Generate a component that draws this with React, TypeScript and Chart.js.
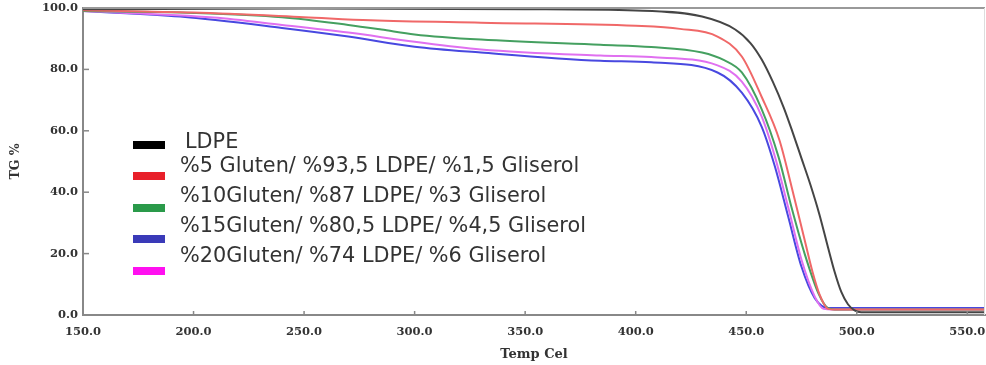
import React, { useEffect, useRef } from "react";
import { Chart, registerables } from "chart.js";
Chart.register(...registerables);

const seriesNames = [
  "LDPE",
  "%5 Gluten/ %93,5 LDPE/ %1,5 Gliserol",
  "%10Gluten/ %87 LDPE/ %3 Gliserol",
  "%15Gluten/ %80,5 LDPE/ %4,5 Gliserol",
  "%20Gluten/ %74 LDPE/ %6 Gliserol",
];

const tempLDPE = [150, 250, 350, 400, 430, 445, 452, 457, 462, 467, 471, 475, 479, 483, 487, 490, 493, 496, 499, 502, 558];
const tgLDPE = [99.6, 99.8, 99.6, 99.2, 97.2, 93, 88.5, 83.2, 76, 67.5, 59.5, 51, 42.5, 33, 22, 14, 7.5, 3.5, 1.5, 0.9, 0.9];

const temp5 = [150, 200, 250, 280, 330, 400, 420, 437, 448, 457, 465, 470.5, 476.4, 480, 483, 487, 490, 558];
const tg5 = [99.3, 98.5, 97, 96, 95.2, 94.2, 93.2, 90.7, 84.2, 71, 57, 41.8, 24.5, 14, 7, 2, 1.8, 1.8];

const temp10 = [150, 200, 240, 270, 285, 300, 330, 384, 407, 430, 440, 448, 457, 464.6, 470.5, 476.4, 482.7, 487, 490, 558];
const tg10 = [99, 98.4, 97, 94.5, 93, 91.4, 89.7, 88, 87.3, 85.5, 83, 79, 67, 51.5, 35, 20, 7, 2.2, 1.8, 1.8];

const temp15 = [150, 194, 240, 270, 300, 330, 384, 407, 437, 448, 457, 463, 469, 475, 481, 487, 558];
const tg15 = [99, 97.2, 93.5, 90.7, 87.4, 85.5, 82.8, 82.3, 79, 72.4, 61.3, 48.3, 32, 15.7, 5.5, 2.3, 2.3];

const temp20 = [150, 209, 240, 270, 300, 330, 384, 407, 437, 448, 457, 463, 469, 475, 481, 485, 489, 558];
const tg20 = [99, 96.9, 94.5, 92, 89, 86.5, 84.5, 84, 81.3, 76, 64.6, 51.5, 35, 18, 6, 2, 1.8, 1.8];

const lineColors = ["#454545", "#f06868", "#45a060", "#4848e0", "#e070f0"];
const swatchColors = ["#000000", "#e8202a", "#2a9a4a", "#3a3ab8", "#ff10f0"];

const xTicks = [150, 200, 250, 300, 350, 400, 450, 500, 550];
const yTicks = [0, 20, 40, 60, 80, 100];

const toPoints = (xs: number[], ys: number[]) => xs.map((x, i) => ({ x, y: ys[i] }));

const legendPlugin = {
  id: "customLegend",
  afterDraw(chart: any) {
    const ctx = chart.ctx;
    ctx.save();
    const swY = [145, 176, 208, 239, 271];
    const txY = [143, 167, 197, 227, 257];
    ctx.font = '20.8px "DejaVu Sans"';
    ctx.textBaseline = "middle";
    ctx.textAlign = "left";
    seriesNames.forEach((name, i) => {
      ctx.fillStyle = swatchColors[i];
      ctx.fillRect(133, swY[i] - 4, 32, 8);
      ctx.fillStyle = "#333";
      ctx.fillText(name, i === 0 ? 185 : 180, txY[i]);
    });
    ctx.restore();
  },
};

const frameTicksPlugin = {
  id: "frameTicks",
  afterDatasetsDraw(chart: any) {
    const ctx = chart.ctx;
    const { left, right, top, bottom } = chart.chartArea;
    const xs = chart.scales.x;
    const ys = chart.scales.y;
    ctx.save();
    ctx.strokeStyle = "#888";
    ctx.lineWidth = 1.5;
    xTicks.forEach((v) => {
      const px = xs.getPixelForValue(v);
      ctx.beginPath();
      ctx.moveTo(px, bottom);
      ctx.lineTo(px, bottom - 4);
      ctx.stroke();
    });
    yTicks.forEach((v) => {
      const py = ys.getPixelForValue(v);
      ctx.beginPath();
      ctx.moveTo(left, py);
      ctx.lineTo(left + 6, py);
      ctx.stroke();
    });
    ctx.strokeStyle = "#999";
    ctx.lineWidth = 2;
    ctx.beginPath();
    ctx.moveTo(left, top);
    ctx.lineTo(right, top);
    ctx.stroke();
    ctx.strokeStyle = "#ddd";
    ctx.lineWidth = 1;
    ctx.beginPath();
    ctx.moveTo(right - 0.5, top);
    ctx.lineTo(right - 0.5, bottom);
    ctx.stroke();
    ctx.restore();
  },
};

export default function App() {
  const ref = useRef<HTMLCanvasElement>(null);
  useEffect(() => {
    const temps = [tempLDPE, temp5, temp10, temp15, temp20];
    const tgs = [tgLDPE, tg5, tg10, tg15, tg20];
    const order = [0, 1, 2, 4, 3];
    const datasets = order.map((i) => ({
      label: seriesNames[i],
      data: toPoints(temps[i], tgs[i]),
      borderColor: lineColors[i],
      borderWidth: 2,
      pointRadius: 0,
      fill: false,
      cubicInterpolationMode: "monotone" as const,
    }));
    const tickFont = { family: '"DejaVu Serif", serif', weight: "bold" as const, size: 11.5 };
    const chart = new Chart(ref.current!, {
      type: "line",
      data: { datasets },
      plugins: [frameTicksPlugin, legendPlugin],
      options: {
        animation: false,
        responsive: false,
        maintainAspectRatio: false,
        layout: { padding: { left: 8, right: 1, top: 8, bottom: 0 } },
        plugins: { legend: { display: false }, tooltip: { enabled: false } },
        scales: {
          x: {
            type: "linear",
            min: 150,
            max: 558,
            afterBuildTicks: (s: any) => {
              s.ticks = xTicks.map((v) => ({ value: v }));
            },
            afterFit: (s: any) => {
              s.height = 50;
              s.paddingLeft = 0;
              s.paddingRight = 0;
            },
            ticks: {
              callback: (v: any) => Number(v).toFixed(1),
              font: tickFont,
              color: "#333",
              padding: 10,
              maxRotation: 0,
              autoSkip: false,
            },
            grid: { display: false, drawTicks: false },
            border: { color: "#888", width: 2 },
            title: {
              display: true,
              text: "Temp Cel",
              font: { family: '"DejaVu Serif", serif', weight: "bold", size: 13 },
              color: "#333",
              padding: { top: 0, bottom: 3 },
            },
          },
          y: {
            min: 0,
            max: 100,
            afterBuildTicks: (s: any) => {
              s.ticks = yTicks.map((v) => ({ value: v }));
            },
            afterFit: (s: any) => {
              s.width = 75;
              s.paddingTop = 0;
              s.paddingBottom = 0;
            },
            ticks: {
              callback: (v: any) => Number(v).toFixed(1),
              font: tickFont,
              color: "#333",
              padding: 5,
            },
            grid: { display: false, drawTicks: false },
            border: { color: "#888", width: 2 },
            title: {
              display: true,
              text: "TG %",
              font: { family: '"DejaVu Serif", serif', weight: "bold", size: 12.5 },
              color: "#333",
              padding: 0,
            },
          },
        },
      },
    });
    return () => chart.destroy();
  }, []);
  return (
    <div style={{ position: "fixed", left: 0, top: 0, width: 986, height: 365, background: "#fff" }}>
      <canvas ref={ref} width={986} height={365} style={{ display: "block" }} />
    </div>
  );
}
